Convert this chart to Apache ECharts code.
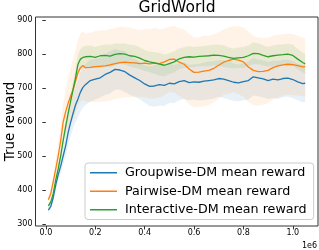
<!DOCTYPE html>
<html><head><meta charset="utf-8">
<script src="https://cdn.jsdelivr.net/npm/echarts@6/dist/echarts.min.js"></script>
<style>html,body{margin:0;padding:0;background:#fff}#c{width:319px;height:250px}</style>
</head><body><div id="c"></div>
<script>
const steps = [0.01,0.02,0.03,0.04,0.05,0.06,0.07,0.08,0.09,0.10,0.11,0.12,0.13,0.14,0.15,0.16,0.18,0.20,0.22,0.24,0.26,0.28,0.30,0.32,0.34,0.36,0.38,0.40,0.42,0.44,0.46,0.48,0.50,0.52,0.54,0.56,0.58,0.60,0.62,0.64,0.66,0.68,0.70,0.72,0.74,0.76,0.78,0.80,0.82,0.84,0.86,0.88,0.90,0.92,0.94,0.96,0.98,1.00,1.02,1.04,1.05];
const groupwiseMean = [341,352,378,415,445,470,500,530,568,598,625,650,668,688,702,710,722,726,730,740,746,755,753,748,738,730,722,712,705,706,710,708,714,712,719,722,716,718,717,720,722,724,728,726,722,717,715,719,722,733,730,727,722,726,724,728,729,725,718,713,714];
const groupwiseStd = [8,10,12,15,18,22,26,30,35,40,45,50,55,58,60,60,62,60,58,60,62,60,58,60,58,56,55,55,58,60,62,60,58,56,55,54,52,52,54,55,56,55,54,55,56,55,54,55,56,55,54,55,54,55,56,55,54,55,54,55,55];
const pairwiseMean = [371,390,425,462,500,545,600,630,655,676,695,720,745,760,766,760,761,763,764,765,768,772,775,776,775,774,772,773,771,773,772,777,784,785,776,770,756,746,747,750,752,758,767,776,781,785,782,777,762,752,748,749,752,760,765,768,770,769,766,762,763];
const pairwiseStd = [10,14,20,28,36,45,55,65,75,82,88,94,98,100,102,100,102,104,105,104,106,104,105,103,102,100,98,100,102,104,100,98,96,98,100,102,104,103,102,104,102,100,98,96,98,97,100,102,104,102,100,98,96,94,92,90,90,90,88,86,85];
const interactiveMean = [353,365,390,430,462,500,545,586,625,660,695,730,770,785,790,792,793,790,795,796,794,799,801,800,795,793,788,781,777,774,770,767,772,777,786,790,792,791,793,794,795,797,796,794,790,787,789,790,795,802,801,796,792,795,797,798,800,796,785,775,771];
const interactiveStd = [6,8,10,12,14,16,18,20,22,24,26,28,30,30,32,32,32,31,30,32,33,32,30,31,32,33,32,31,30,32,33,32,30,31,30,30,31,30,29,30,31,30,31,32,30,29,30,31,30,32,31,30,29,30,31,30,30,31,30,29,30];
const seriesNames = ['Groupwise-DM mean reward','Pairwise-DM mean reward','Interactive-DM mean reward'];
const yTicks = [300,400,500,600,700,800,900];
const xTicks = [0.0,0.2,0.4,0.6,0.8,1.0];
const colors = ['#1f77b4','#ff7f0e','#2ca02c'];
const bandColors = ['rgba(31,119,180,0.1)','rgba(255,127,14,0.1)','rgba(44,160,44,0.1)'];

const means = [groupwiseMean, pairwiseMean, interactiveMean];
const stds = [groupwiseStd, pairwiseStd, interactiveStd];
const series = [];
means.forEach((m, k) => {
  const s = stds[k];
  const rows = steps.map((x,i)=>[x, m[i]-s[i], m[i]+s[i]]);
  series.push({
    type: 'custom', silent: true, z: 2, animation: false,
    data: rows, encode: {x: 0, y: [1,2]},
    renderItem: function(params, api) {
      if (params.dataIndex !== 0) return null;
      const upper = rows.map(r => api.coord([r[0], r[2]]));
      const lower = rows.map(r => api.coord([r[0], r[1]])).reverse();
      return {type: 'polygon', shape: {points: upper.concat(lower)}, style: {fill: bandColors[k]}};
    }
  });
});
means.forEach((m, k) => {
  series.push({
    name: seriesNames[k], type: 'line', data: steps.map((x,i)=>[x,m[i]]),
    symbol: 'none', color: colors[k], lineStyle: {width: 1.3, color: colors[k]}, z: 5, animation: false
  });
});

const chart = echarts.init(document.getElementById('c'), null, {renderer: 'canvas'});
chart.setOption({
  animation: false,
  backgroundColor: '#fff',
  textStyle: {fontFamily: 'DejaVu Sans'},
  title: {text: 'GridWorld', left: 177, textAlign: 'center', top: 0, padding: 0, textStyle: {fontFamily: 'DejaVu Sans', fontSize: 15.5, fontWeight: 'normal', color: '#000'}},
  grid: {left: 35.5, right: 1, top: 17, bottom: 24, containLabel: false, outerBoundsMode: 'none', show: true, borderColor: '#333', borderWidth: 1, backgroundColor: 'transparent'},
  legend: {
    data: seriesNames, orient: 'vertical', left: 85, top: 163,
    icon: 'rect', itemWidth: 27, itemHeight: 1.5, itemGap: 4,
    padding: [2.5, 7, 2.5, 5],
    borderColor: '#ccc', borderWidth: 1, borderRadius: 3, backgroundColor: 'rgba(255,255,255,0.8)',
    textStyle: {fontFamily: 'DejaVu Sans', fontSize: 12.7, color: '#000', lineHeight: 14.5, padding: [0,0,0,3]}
  },
  xAxis: {
    type: 'value', min: -0.042, max: 1.102,
    axisLine: {show: false}, splitLine: {show: false},
    axisTick: {show: true, length: 3.5, lineStyle: {color: '#333'}, customValues: xTicks},
    axisLabel: {fontSize: 8, color: '#000', margin: 3, customValues: xTicks, formatter: v => v.toFixed(1)}
  },
  yAxis: {
    type: 'value', min: 294, max: 909,
    axisLine: {show: false}, splitLine: {show: false},
    axisTick: {show: true, length: 3.5, lineStyle: {color: '#333'}, customValues: yTicks},
    axisLabel: {fontSize: 8, color: '#000', margin: 3, customValues: yTicks},
    name: 'True reward', nameLocation: 'middle', nameGap: 18, nameMoveOverlap: false,
    nameTextStyle: {fontFamily: 'DejaVu Sans', fontSize: 13.5, color: '#000'}
  },
  graphic: [{type: 'text', left: 302, top: 242, style: {text: '1e6', fontSize: 8, fontFamily: 'DejaVu Sans', fill: '#000'}}],
  series: series
});
</script></body></html>
